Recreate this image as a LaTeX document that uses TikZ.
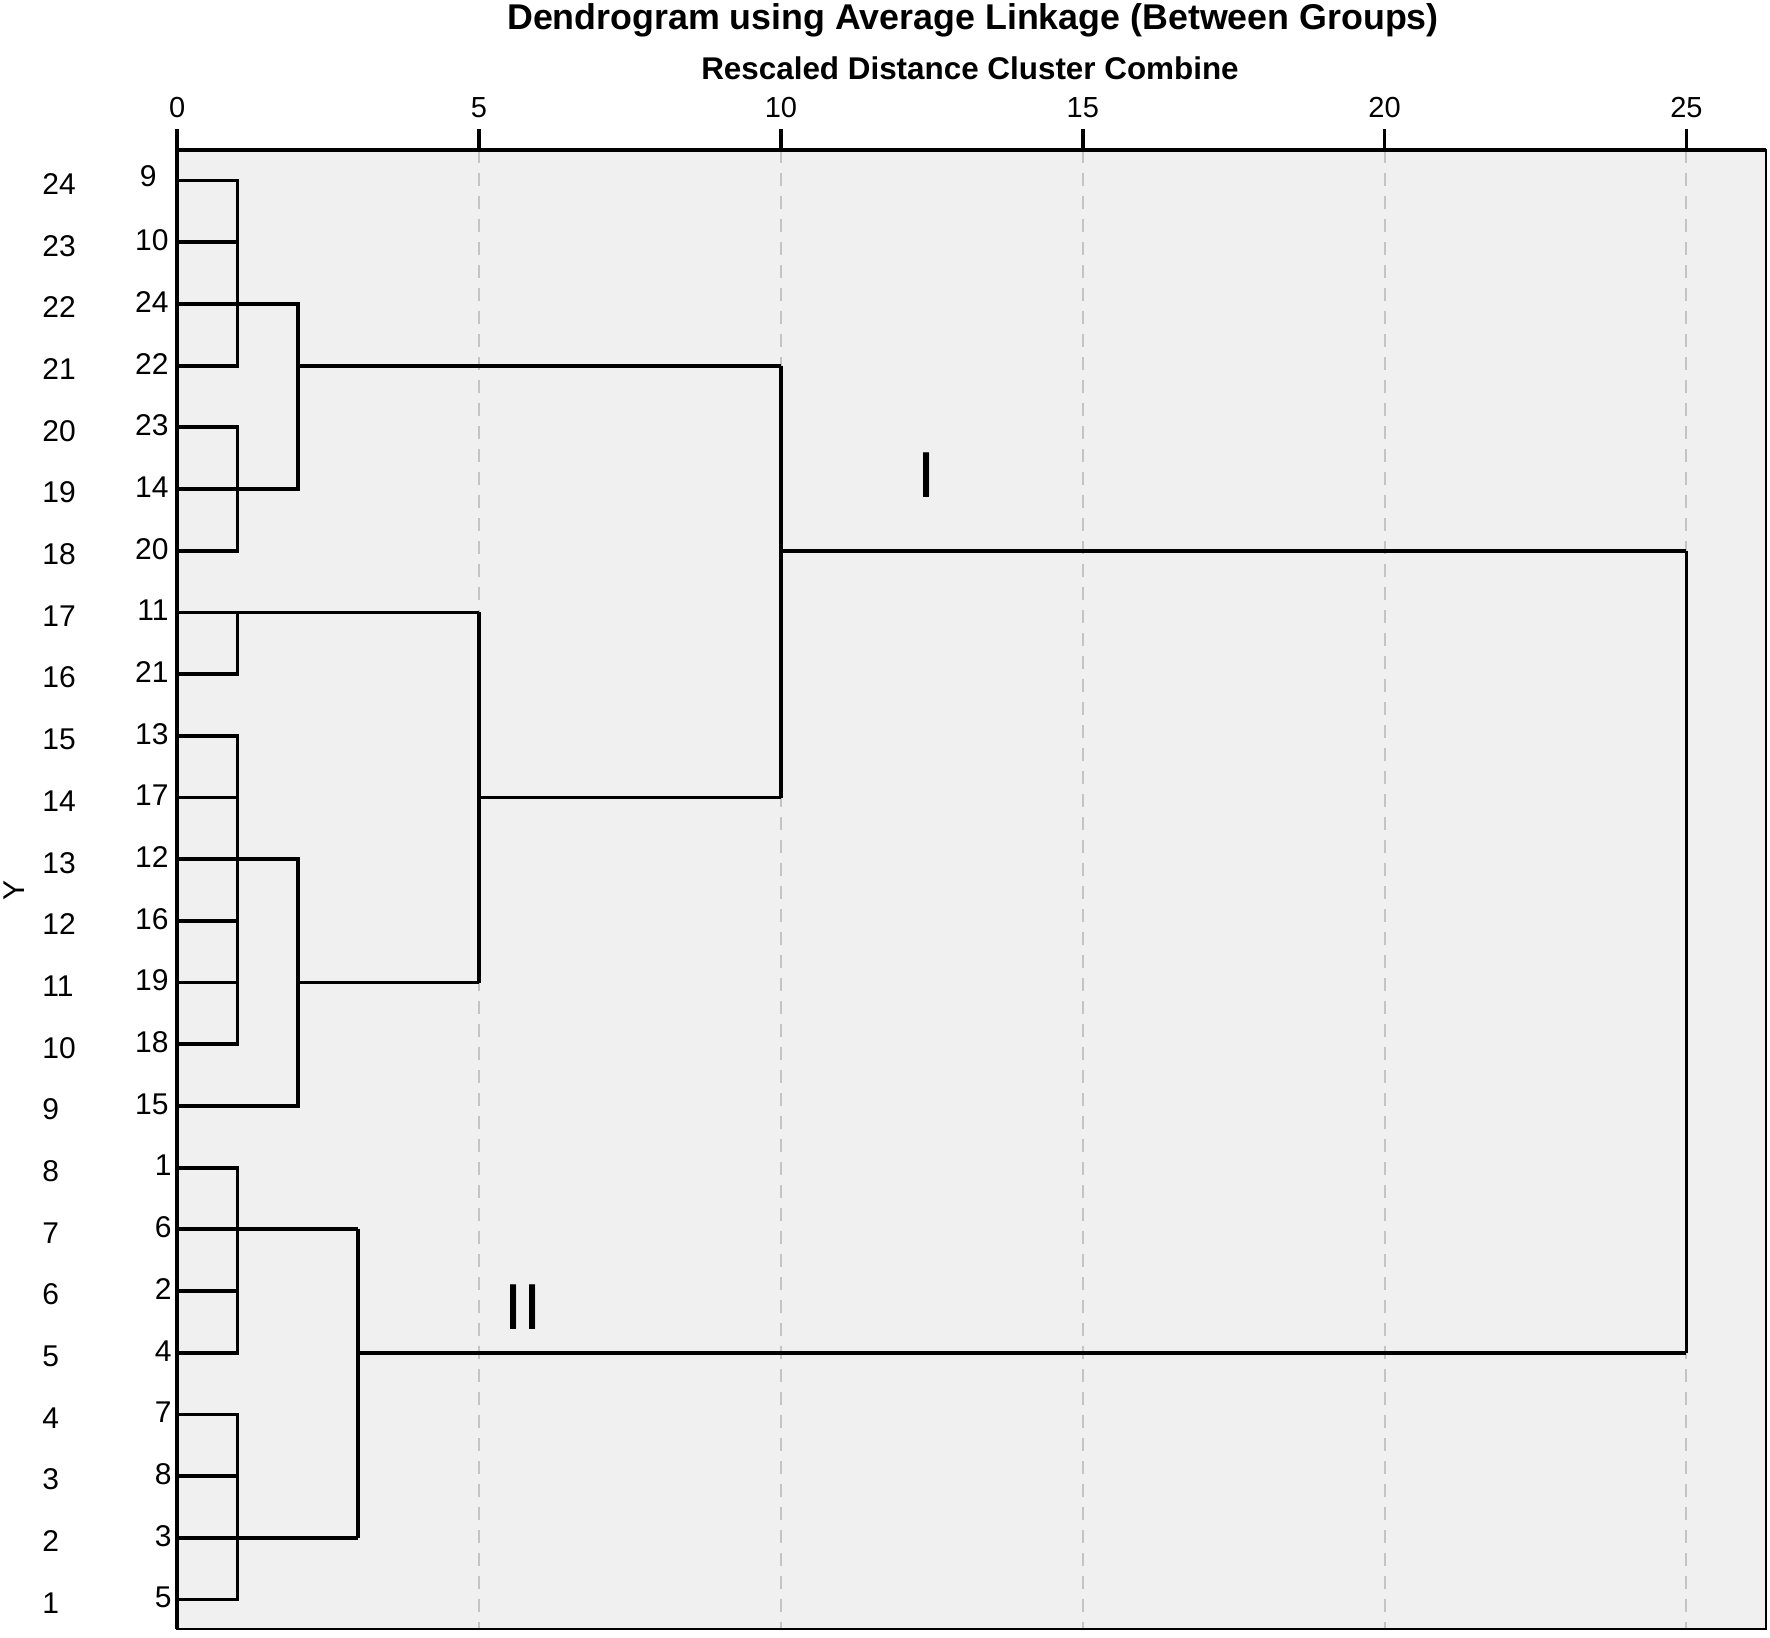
\documentclass[tikz,border=0pt]{standalone}
\usepackage{fontspec}
\setmainfont{Liberation Sans}
\definecolor{plotbg}{HTML}{F0F0F0}
\definecolor{gridc}{HTML}{C4C4C4}
\begin{document}
\begin{tikzpicture}[x=0.5pt,y=-0.5pt,
  ticklab/.style={inner sep=0pt,font=\fontsize{14.5}{16}\selectfont},
  rowlab/.style={inner sep=0pt,anchor=west,font=\fontsize{15}{16}\selectfont},
  caselab/.style={inner sep=0pt,anchor=east,font=\fontsize{15}{16}\selectfont},
  gridline/.style={gridc,line width=1pt,dash pattern=on 6.5pt off 5pt},
  dline/.style={line width=1.9pt,line join=miter},
  roman/.style={inner sep=0pt,font=\fontsize{32.5}{36}\selectfont}]
\useasboundingbox (0,0) rectangle (1770,1637);
\fill[white] (0,0) rectangle (1770,1637);
% titles
\node[inner sep=0pt,anchor=base,font=\fontsize{17.9}{20}\selectfont\bfseries] (title) at (973,30) {Dendrogram using Average Linkage (Between Groups)};
\node[inner sep=0pt,anchor=base,font=\fontsize{15.7}{18}\selectfont\bfseries] (subtitle) at (970,80) {Rescaled Distance Cluster Combine};
% plot area
\fill[plotbg] (177.2,150) rectangle (1766,1629);
\foreach \d in {5,10,15,20,25}
  \draw[gridline] ({177.2+60.37*\d},150) -- ({177.2+60.37*\d},1629);
\draw[line width=1.4pt] (177.2,150) rectangle (1766,1629);
\draw[line width=2.1pt] (177.2,1629) -- (177.2,150) -- (1766,150);
\foreach \d in {0,5,10,15,20,25}{
  \draw[line width=1.8pt] ({177.2+60.37*\d},129) -- ({177.2+60.37*\d},150);
  \node[ticklab] (tick\d) at ({177.2+60.37*\d},108) {\d};
}
% row labels
\foreach \i in {0,...,23}{
  \pgfmathtruncatemacro{\yv}{24-\i}
  \node[rowlab] (row\yv) at (42,{184.1+61.69*\i}) {\yv};
}
\foreach \c [count=\i from 0] in {10,24,22,23,14,20,11,21,13,17,12,16,19,18,15,1,6,2,4,7,8,3,5}
  \node[caselab] (case\c) at ({\c<10 ? 172 : 169},{178.6+61.69*(\i+1)}) {\c};
\node[caselab] (case9) at (157,176) {9};
\node[inner sep=0pt,rotate=90,font=\fontsize{15}{16}\selectfont] (ylab) at (14,890) {Y};
% dendrogram
\begin{scope}[shift={(88.6pt,-90.3pt)},x=30.185pt,y=-30.845pt]
  % cluster A: rows 0-3
  \draw[dline] (0,0) -- (1,0) -- (1,3) -- (0,3);
  \draw[dline] (0,1) -- (1,1);
  % cluster B: rows 4-6
  \draw[dline] (0,4) -- (1,4) -- (1,6) -- (0,6);
  % A + B at 2
  \draw[dline] (0,2) -- (2,2) -- (2,5) -- (0,5);
  % AB -> 10
  \draw[dline] (2,3) -- (10,3);
  % cluster C: rows 7-8
  \draw[dline] (5,7) -- (1,7) -- (1,8) -- (0,8);
  \draw[dline] (0,7) -- (1,7);
  % cluster D: rows 9-14
  \draw[dline] (0,9) -- (1,9) -- (1,14) -- (0,14);
  \foreach \r in {10,12,13} \draw[dline] (0,\r) -- (1,\r);
  % D + 15 at 2
  \draw[dline] (0,11) -- (2,11) -- (2,15) -- (0,15);
  \draw[dline] (2,13) -- (5,13);
  % C + D15 at 5
  \draw[dline] (5,7) -- (5,13);
  \draw[dline] (5,10) -- (10,10);
  % AB + CD at 10
  \draw[dline] (10,3) -- (10,10);
  \draw[dline] (10,6) -- (25,6);
  % cluster E: rows 16-19
  \draw[dline] (0,16) -- (1,16) -- (1,19) -- (0,19);
  \draw[dline] (0,18) -- (1,18);
  \draw[dline] (0,17) -- (3,17);
  % cluster F: rows 20-23
  \draw[dline] (0,20) -- (1,20) -- (1,23) -- (0,23);
  \draw[dline] (0,21) -- (1,21);
  \draw[dline] (0,22) -- (3,22);
  % E + F at 3
  \draw[dline] (3,17) -- (3,22);
  \draw[dline] (3,19) -- (25,19);
  % final join at 25
  \draw[dline] (25,6) -- (25,19);
\end{scope}
\node[roman] (groupI) at (927,475) {I};
\node[roman] (groupII) at (523,1307) {II};
\end{tikzpicture}
\end{document}
